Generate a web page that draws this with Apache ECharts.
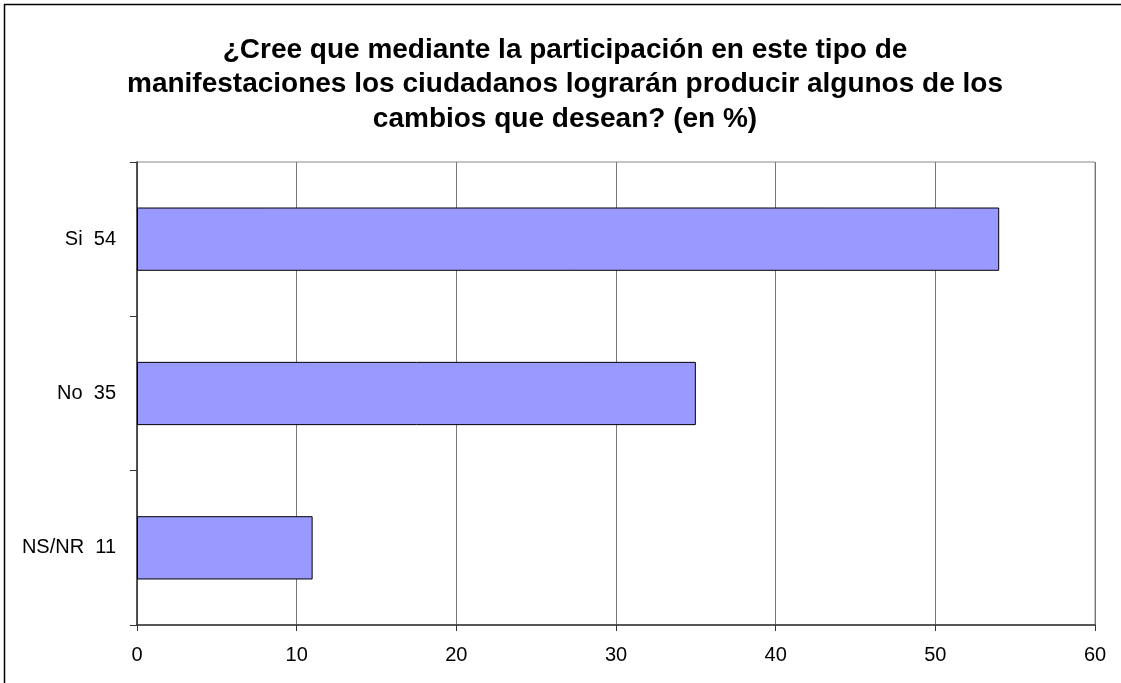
<!DOCTYPE html>
<html><head><meta charset="utf-8">
<script src="https://cdn.jsdelivr.net/npm/echarts@6/dist/echarts.min.js"></script>
<style>html,body{margin:0;padding:0;background:#fff}#c{width:1121px;height:683px}</style>
</head><body><div id="c"></div>
<script>
const titleText = '¿Cree que mediante la participación en este tipo de\nmanifestaciones los ciudadanos lograrán producir algunos de los\ncambios que desean? (en %)';
const categories = ['Si  54', 'No  35', 'NS/NR  11'];
const values = [54, 35, 11];
const xTicks = [0, 10, 20, 30, 40, 50, 60];

const chart = echarts.init(document.getElementById('c'), null, {renderer: 'canvas'});
chart.setOption({
  backgroundColor: '#fff',
  animation: false,
  textStyle: {fontFamily: 'Liberation Sans, Arial, sans-serif'},
  title: {
    text: titleText, left: 560, top: 28, textAlign: 'center',
    textStyle: {fontSize: 28, fontWeight: 'bold', color: '#000', lineHeight: 34.5, align: 'center', fontFamily: 'Liberation Sans, Arial, sans-serif'}
  },
  graphic: [{
    type: 'rect', shape: {x: 4.5, y: 4.5, width: 1140, height: 700},
    style: {fill: 'none', stroke: '#000', lineWidth: 1.5}, silent: true
  }],
  grid: {left: 137, right: 26, top: 162, bottom: 58, show: true, borderColor: '#888', borderWidth: 1, backgroundColor: 'transparent'},
  xAxis: {
    type: 'value', min: xTicks[0], max: xTicks[xTicks.length - 1], interval: 10,
    axisLine: {show: true, lineStyle: {color: '#333', width: 1.5}},
    axisTick: {show: true, length: 6, lineStyle: {color: '#333'}},
    axisLabel: {fontSize: 20, color: '#000', margin: 20},
    splitLine: {show: true, lineStyle: {color: '#777', width: 1}}
  },
  yAxis: {
    type: 'category', data: categories, inverse: true,
    axisLine: {show: true, lineStyle: {color: '#333', width: 1.5}},
    axisTick: {show: true, length: 7, lineStyle: {color: '#333'}},
    axisLabel: {fontSize: 20, color: '#000', margin: 21}
  },
  series: [{
    type: 'bar', data: values, barWidth: '41%',
    itemStyle: {color: '#9999FF', borderColor: '#000', borderWidth: 1}
  }]
});
</script></body></html>
